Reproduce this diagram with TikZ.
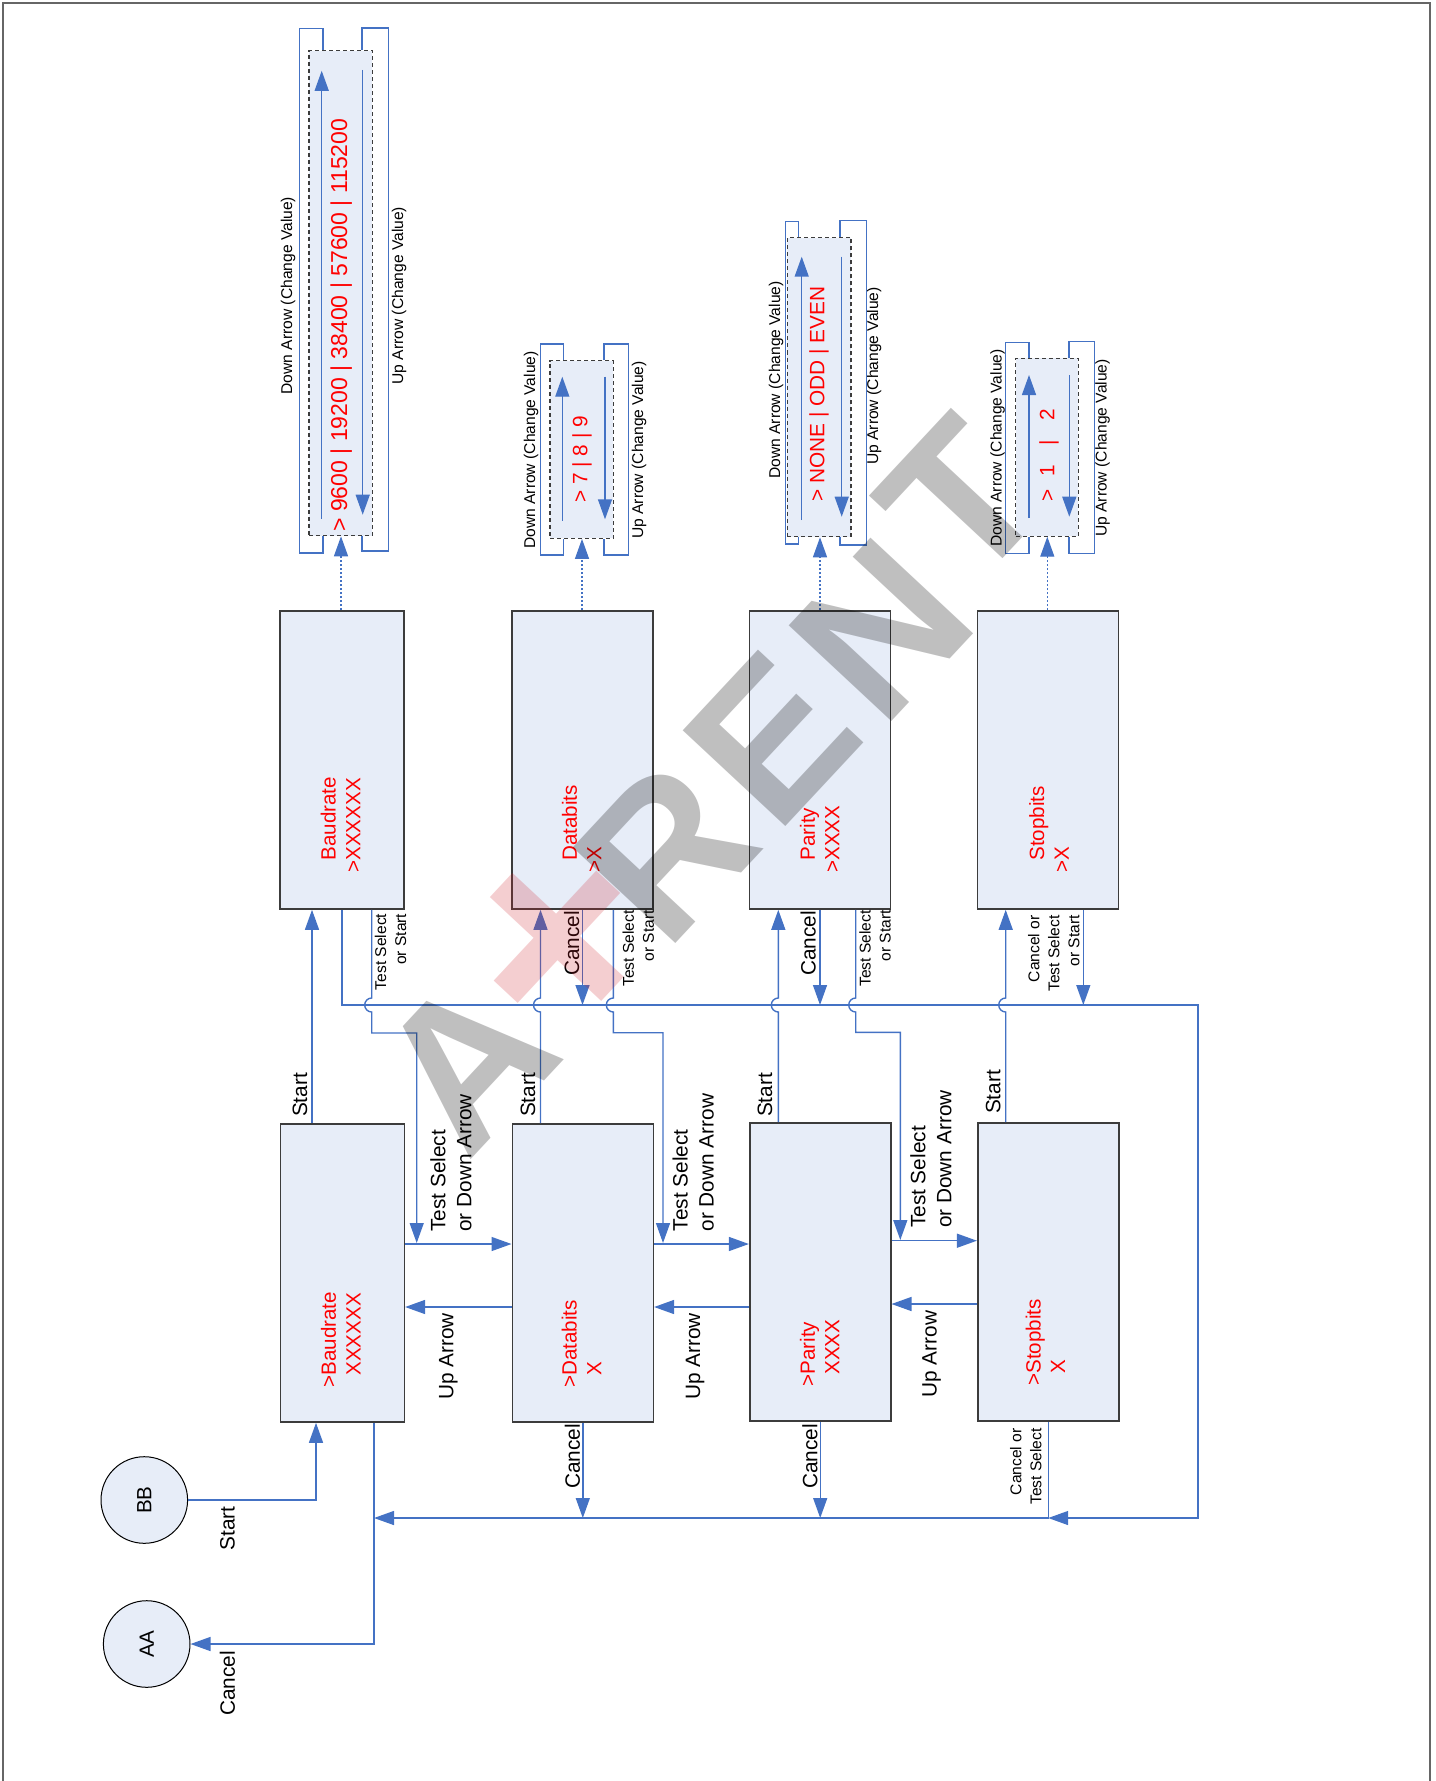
\documentclass[tikz,border=0pt]{standalone}
\usepackage{fontspec}
\setmainfont{Liberation Sans}
\usetikzlibrary{arrows.meta}
\definecolor{lineblue}{RGB}{68,114,196}
\definecolor{boxfill}{RGB}{231,237,248}
\definecolor{boxdraw}{RGB}{60,60,60}
\definecolor{wmred}{RGB}{205,30,40}
\tikzset{
  flow/.style={draw=lineblue, line width=0.7pt},
  dotflow/.style={draw=lineblue, line width=0.6pt, dash pattern=on 1pt off 1pt},
  arr/.style={-{Triangle[length=10pt,width=7pt]}},
  stbox/.style={draw=boxdraw, fill=boxfill, line width=0.8pt, minimum height=149pt, inner sep=0pt},
  valbox/.style={draw=boxdraw, fill=boxfill, line width=0.6pt, dash pattern=on 2pt off 1.5pt, inner sep=0pt},
  circ/.style={circle, draw=black, fill=boxfill, line width=0.5pt, minimum size=43.3pt, inner sep=0pt, font=\fontsize{10.3}{12}\selectfont},
  redtxt/.style={text=red, font=\fontsize{10.3}{12.3}\selectfont, rotate=90, align=left, inner sep=0pt, anchor=west},
  valtxt/.style={text=red, font=\fontsize{10.4}{12}\selectfont, rotate=90, inner sep=0pt, anchor=west},
  lbl/.style={font=\fontsize{10.4}{13}\selectfont, rotate=90, inner sep=0pt},
  sml/.style={font=\fontsize{7.8}{10}\selectfont, rotate=90, inner sep=0pt},
  wm/.style={font=\fontsize{102}{102}\selectfont\bfseries, text=black, text opacity=0.25, rotate=47, inner sep=0pt},
}
\begin{document}
\begin{tikzpicture}[x=0.5pt,y=-0.5pt]
\useasboundingbox (0,0) rectangle (1435,1781);
% frame
\draw[draw=black!60, line width=1pt] (3,1781) -- (3,2.7) -- (1430,2.7) -- (1430,1781);

% state boxes
\node[stbox, minimum width=62pt]   (bu1) at (342,760) {};
\node[stbox, minimum width=70.5pt] (bu2) at (582.5,760) {};
\node[stbox, minimum width=70.5pt] (bu3) at (820,760) {};
\node[stbox, minimum width=70.5pt] (bu4) at (1048,760) {};
\node[stbox, minimum width=62pt]   (bl1) at (342.3,1273) {};
\node[stbox, minimum width=70.5pt] (bl2) at (582.8,1273) {};
\node[stbox, minimum width=70.5pt] (bl3) at (820.2,1272) {};
\node[stbox, minimum width=70.5pt] (bl4) at (1048.2,1272) {};

% value boxes
\node[valbox, minimum width=31.7pt, minimum height=242.4pt] (vb1) at (340.7,293.3) {};
\node[valbox, minimum width=31.7pt, minimum height=88.8pt]  (vb2) at (581.7,449.5) {};
\node[valbox, minimum width=31.8pt, minimum height=149.5pt] (vb3) at (819.2,387.2) {};
\node[valbox, minimum width=31.3pt, minimum height=88.9pt]  (vb4) at (1047,447.2) {};

% circles
\node[circ] (bb) at (144.3,1500) {\rotatebox{90}{BB}};
\node[circ] (aa) at (146.7,1644) {\rotatebox{90}{AA}};

% red texts in boxes
\node[redtxt] (bu1t) at (340.5,873) {\phantom{>}Baudrate\\>XXXXXX};
\node[redtxt] (bu2t) at (581.7,873) {\phantom{>}Databits\\>X};
\node[redtxt] (bu3t) at (819.6,873) {\phantom{>}Parity\\>XXXX};
\node[redtxt] (bu4t) at (1049,873) {\phantom{>}Stopbits\\>X};
\node[redtxt] (bl1t) at (340.8,1388) {>Baudrate\\\phantom{>}XXXXXX};
\node[redtxt] (bl2t) at (581.5,1388) {>Databits\\\phantom{>}X};
\node[redtxt] (bl3t) at (819.6,1387) {>Parity\\\phantom{>}XXXX};
\node[redtxt] (bl4t) at (1045.4,1386) {>Stopbits\\\phantom{>}X};

% value texts
\node[valtxt, font=\fontsize{11.5}{13}\selectfont] (vb1t) at (341.3,532) {> 9600 | 19200 | 38400 | 57600 | 115200};
\node[valtxt] (vb2t) at (582,503) {> 7 | 8 | 9};
\node[valtxt] (vb3t) at (819,502) {> NONE | ODD | EVEN};
\node[valtxt] (vb4t) at (1049,502) {>\hspace{0.63em}1\hspace{0.94em}|\hspace{0.94em}2};

% value box labels
\node[sml] (vb1d) at (288,295.6) {Down Arrow (Change Value)};
\node[sml] (vb1u) at (399,295.6) {Up Arrow (Change Value)};
\node[sml] (vb2d) at (531,450) {Down Arrow (Change Value)};
\node[sml] (vb2u) at (639,450) {Up Arrow (Change Value)};
\node[sml] (vb3d) at (776,380) {Down Arrow (Change Value)};
\node[sml] (vb3u) at (874,376) {Up Arrow (Change Value)};
\node[sml] (vb4d) at (997.5,448) {Down Arrow (Change Value)};
\node[sml] (vb4u) at (1102.5,448) {Up Arrow (Change Value)};

% brackets (self loops)
\draw[flow] (vb1.north -| 323,0) -- (323,28.7) -- (299.3,28.7) -- (299.3,553) -- (323,553) -- (vb1.south -| 323,0);
\draw[flow] (vb1.north -| 362,0) -- (362,27.9) -- (388.3,27.9) -- (388.3,551) -- (362,551) -- (vb1.south -| 362,0);
\draw[flow] (vb2.north -| 563.3,0) -- (563.3,344) -- (540.7,344) -- (540.7,555) -- (563.3,555) -- (vb2.south -| 563.3,0);
\draw[flow] (vb2.north -| 604,0) -- (604,344) -- (628.3,344) -- (628.3,555) -- (604,555) -- (vb2.south -| 604,0);
\draw[flow] (vb3.north -| 798.3,0) -- (798.3,221.7) -- (785.7,221.7) -- (785.7,544) -- (798.3,544) -- (vb3.south -| 798.3,0);
\draw[flow] (vb3.north -| 840,0) -- (840,220.7) -- (866.7,220.7) -- (866.7,545) -- (840,545) -- (vb3.south -| 840,0);
\draw[flow] (vb4.north -| 1029,0) -- (1029,342.3) -- (1005.7,342.3) -- (1005.7,553.3) -- (1029,553.3) -- (vb4.south -| 1029,0);
\draw[flow] (vb4.north -| 1069,0) -- (1069,341.7) -- (1094.3,341.7) -- (1094.3,553.3) -- (1069,553.3) -- (vb4.south -| 1069,0);

% inner arrows
\draw[flow,arr] (321.7,518.5) -- (321.7,70.8);
\draw[flow,arr] (362.7,70) -- (362.7,514.7);
\draw[flow,arr] (562.3,520.7) -- (562.3,376.7);
\draw[flow,arr] (605,376.7) -- (605,519.3);
\draw[flow,arr] (801.7,520) -- (801.7,256.7);
\draw[flow,arr] (841.7,256.7) -- (841.7,516.7);
\draw[flow,arr] (1029,518) -- (1029,375);
\draw[flow,arr] (1069.3,375) -- (1069.3,516.7);

% dotted links
\draw[dotflow,arr] (bu1.north -| 341,0) -- (vb1.south -| 341,0);
\draw[dotflow,arr] (bu2.north -| 582,0) -- (vb2.south -| 582,0);
\draw[dotflow,arr] (bu3.north -| 820,0) -- (vb3.south -| 820,0);
\draw[dotflow,arr] (bu4.north -| 1047.3,0) -- (vb4.south -| 1047.3,0);

% buses
\draw[flow,arr] (bu1.south) |- (1198,1005) |- (bl4.south |- 0,1518);
\draw[flow,arr] (bl4.south) |- (374,1518);
\draw[flow,arr] (bl1.south -| 374,0) |- (aa.east);
\draw[flow,arr] (bb.east) -| (bl1.south -| 316,0);
\draw[flow,arr] (bl2.south) -- (bl2.south |- 0,1518);
\draw[flow,arr] (bl3.south) -- (bl3.south |- 0,1518);

% start lines
\draw[flow,arr] (bl1.north -| 312,0) -- (bu1.south -| 312,0);
\draw[flow,arr] (bl2.north -| 540.5,0) -- (540.5,1012) arc[start angle=-90,end angle=-270,radius=3.5pt] -- (bu2.south -| 540.5,0);
\draw[flow,arr] (bl3.north -| 778.3,0) -- (778.3,1012) arc[start angle=-90,end angle=-270,radius=3.5pt] -- (bu3.south -| 778.3,0);
\draw[flow,arr] (bl4.north -| 1005.7,0) -- (1005.7,1012) arc[start angle=-90,end angle=-270,radius=3.5pt] -- (bu4.south -| 1005.7,0);

% test select or start lines
\draw[flow,arr] (bu1.south -| 371.7,0) -- (371.7,998) arc[start angle=90,end angle=270,radius=3.5pt] -- (371.7,1033) -| (416.7,1243);
\draw[flow,arr] (bu2.south -| 613.3,0) -- (613.3,998) arc[start angle=90,end angle=270,radius=3.5pt] -- (613.3,1032.7) -| (663,1243);
\draw[flow,arr] (bu3.south -| 855.7,0) -- (855.7,998) arc[start angle=90,end angle=270,radius=3.5pt] -- (855.7,1032.3) -| (900.3,1240);

% upper cancel
\draw[flow,arr] (bu2.south) -- (bu2.south |- 0,1005);
\draw[flow,arr] (bu3.south) -- (bu3.south |- 0,1005);
\draw[flow,arr] (bu4.south -| 1083.3,0) -- (1083.3,1005);

% lower horizontal transitions
\draw[flow,arr] (bl1.east |- 0,1244) -- (bl2.west |- 0,1244);
\draw[flow,arr] (bl2.west |- 0,1307) -- (bl1.east |- 0,1307);
\draw[flow,arr] (bl2.east |- 0,1244) -- (bl3.west |- 0,1244);
\draw[flow,arr] (bl3.west |- 0,1307) -- (bl2.east |- 0,1307);
\draw[flow,arr] (bl3.east |- 0,1240.7) -- (bl4.west |- 0,1240.7);
\draw[flow,arr] (bl4.west |- 0,1304) -- (bl3.east |- 0,1304);

% labels
\node[lbl] (s1) at (300,1095) {Start};
\node[lbl] (s2) at (528,1095) {Start};
\node[lbl] (s3) at (765,1095) {Start};
\node[lbl] (s4) at (993.3,1092) {Start};
\node[lbl, anchor=west, align=left] (t1) at (451,1232) {Test Select\\or Down Arrow};
\node[lbl, anchor=west, align=left] (t2) at (693.3,1231.7) {Test Select\\or Down Arrow};
\node[lbl, anchor=west, align=left] (t3) at (931,1228.3) {Test Select\\or Down Arrow};
\node[lbl] (u1) at (448.3,1356.5) {Up Arrow};
\node[lbl] (u2) at (695,1356.5) {Up Arrow};
\node[lbl] (u3) at (931.7,1354) {Up Arrow};
\node[lbl] (c2) at (572.5,1456.5) {Cancel};
\node[lbl] (c3) at (810,1456.5) {Cancel};
\node[sml, anchor=east, align=right] (c4) at (1025.8,1428) {Cancel or\\Test Select};
\node[lbl] (bbl) at (227.5,1528.3) {Start};
\node[lbl] (aal) at (227.5,1683.3) {Cancel};
\node[sml, anchor=east, align=right] (ut1) at (390.5,913.3) {Test Select\\or Start};
\node[lbl] (uc2) at (571.7,943.3) {Cancel};
\node[sml, anchor=east, align=right] (ut2) at (638.3,910) {Test Select\\or Start};
\node[lbl] (uc3) at (808.3,943.3) {Cancel};
\node[sml, anchor=east, align=right] (ut3) at (875,910) {Test Select\\or Start};
\node[sml, anchor=east, align=right] (ut4) at (1053.8,915) {Cancel or\\Test Select\\or Start};

% watermark
\node[wm] (wA) at (466,1062) {A};
\node[wm, text=wmred, font=\fontsize{150}{150}\selectfont\bfseries, text opacity=0.22] (wP) at (566,945) {+};
\node[wm] (wR) at (665,852) {R};
\node[wm] (wE) at (772,739) {E};
\node[wm] (wN) at (881,630) {N};
\node[wm] (wT) at (962,500) {T};
\end{tikzpicture}
\end{document}
